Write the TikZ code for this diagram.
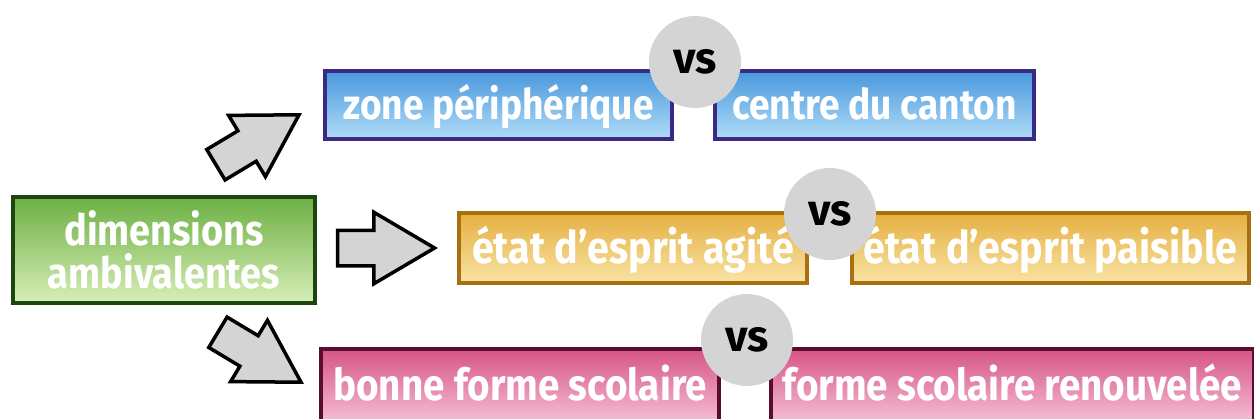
\documentclass[tikz,border=0pt]{standalone}
\usepackage{fontspec}
\setmainfont{Fira Sans}
\newfontfamily\boxfont[FakeStretch=0.88]{Fira Sans}
\usetikzlibrary{shapes.arrows}
\definecolor{greenT}{HTML}{6CB043}
\definecolor{greenB}{HTML}{D8EEB8}
\definecolor{greenD}{HTML}{1C4510}
\definecolor{blueT}{HTML}{4A98DD}
\definecolor{blueB}{HTML}{B0DCF7}
\definecolor{blueD}{HTML}{3A2A85}
\definecolor{orT}{HTML}{E5B040}
\definecolor{orB}{HTML}{F9E3A5}
\definecolor{orD}{HTML}{A8700F}
\definecolor{pkT}{HTML}{D65585}
\definecolor{pkB}{HTML}{F5BCD4}
\definecolor{pkD}{HTML}{5A0C30}
\definecolor{circgray}{HTML}{D4D4D4}
\tikzset{
  box/.style={draw, rectangle, line width=0.08cm, inner sep=0pt, text=white,
    text height=0.9cm, text depth=0.3cm},
  bluebox/.style={box, draw=blueD, top color=blueT, bottom color=blueB, minimum height=1.36cm,
    font=\boxfont\bfseries\fontsize{24}{26}\selectfont},
  orbox/.style={box, draw=orD, top color=orT, bottom color=orB, minimum height=1.40cm,
    font=\boxfont\bfseries\fontsize{25.5}{28}\selectfont},
  pkbox/.style={box, draw=pkD, top color=pkT, bottom color=pkB, minimum height=1.44cm,
    font=\boxfont\bfseries\fontsize{25}{28}\selectfont},
  greenbox/.style={draw=greenD, rectangle, line width=0.08cm, inner sep=0pt, text=white,
    top color=greenT, bottom color=greenB, align=center,
    font=\boxfont\bfseries\fontsize{24.5}{24.5}\selectfont},
  vsbadge/.style={circle, fill=circgray, minimum size=1.84cm, inner sep=0pt,
    font=\bfseries\fontsize{25}{28}\selectfont, text=black},
  blockarrow/.style={single arrow, draw=black, fill=circgray, line width=0.07cm,
    inner xsep=0pt, inner ysep=0.32cm, single arrow head extend=0.36cm,
    single arrow tip angle=61, minimum height=1.94cm, anchor=tip}
}
\begin{document}
\begin{tikzpicture}[x=0.02cm,y=-0.02cm]
\path[use as bounding box, clip] (0,0) rectangle (1254,419);
\fill[white] (0,0) rectangle (1254,419);
% source box
\node[greenbox, minimum width=6.04cm, minimum height=2.12cm] (src) at (164,250) {dimensions\\ambivalentes};
% arrows
\node[blockarrow, rotate=31] (a1) at (302,113) {};
\node[blockarrow] (a2) at (438,248) {};
\node[blockarrow, rotate=-31] (a3) at (304,384) {};
% row 1
\node[bluebox, minimum width=6.94cm] (b1) at (498.5,105) {zone périphérique};
\node[bluebox, minimum width=6.38cm] (b2) at (874.5,105) {centre du canton};
% row 2
\node[orbox, minimum width=6.96cm] (o1) at (633,248) {état d’esprit agité};
\node[orbox, minimum width=7.94cm] (o2) at (1050.5,248) {état d’esprit paisible};
% row 3
\node[pkbox, minimum width=7.96cm] (p1) at (520,385) {bonne forme scolaire};
\node[pkbox, minimum width=9.66cm] (p2) at (1012.5,385) {forme scolaire renouvelée};
% vs badges
\node[vsbadge] (v1) at (695,62) {vs};
\node[vsbadge] (v2) at (830,214) {vs};
\node[vsbadge] (v3) at (747,340) {vs};
\end{tikzpicture}
\end{document}
